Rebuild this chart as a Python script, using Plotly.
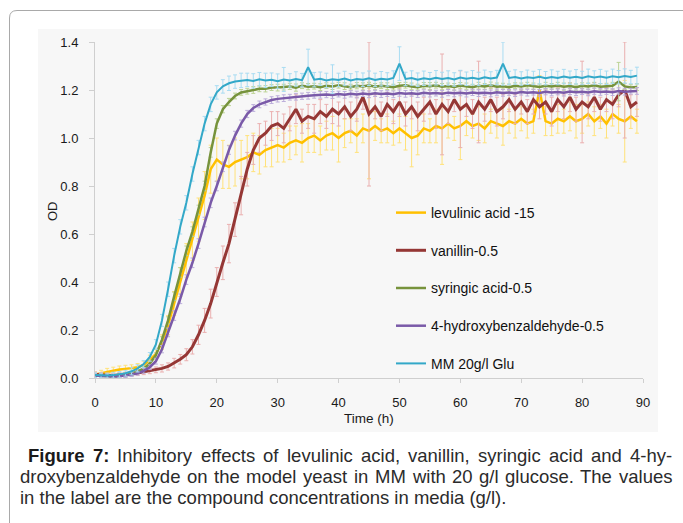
import plotly.graph_objects as go

# ---------------- data ----------------
time_h = list(range(0, 90))

levulinic = [
    0.015, 0.020, 0.028, 0.030, 0.035, 0.038, 0.040, 0.045, 0.055, 0.075,
    0.10, 0.15, 0.22, 0.31, 0.40, 0.49, 0.57, 0.66, 0.76, 0.87,
    0.91, 0.89, 0.88, 0.90, 0.91, 0.92, 0.94, 0.93, 0.95, 0.96,
    0.97, 0.96, 0.98, 0.99, 0.98, 1.00, 1.01, 0.99, 1.01, 1.02,
    1.00, 1.02, 1.03, 1.01, 1.04, 1.03, 1.05, 1.03, 1.04, 1.02,
    1.04, 1.02, 1.00, 1.01, 1.04, 1.03, 1.05, 1.04, 1.06, 1.04,
    1.05, 1.07, 1.05, 1.06, 1.04, 1.07, 1.06, 1.05, 1.07, 1.06,
    1.08, 1.06, 1.07, 1.20, 1.07, 1.06, 1.08, 1.07, 1.09, 1.07,
    1.08, 1.10, 1.07, 1.09, 1.06, 1.10, 1.08, 1.07, 1.09, 1.07]
levulinic_err = [
    0.010, 0.012, 0.012, 0.015, 0.015, 0.015, 0.015, 0.015, 0.015, 0.020,
    0.020, 0.030, 0.040, 0.050, 0.060, 0.070, 0.080, 0.090, 0.100, 0.100,
    0.090, 0.100, 0.090, 0.100, 0.080, 0.090, 0.080, 0.080, 0.070, 0.080,
    0.070, 0.060, 0.070, 0.060, 0.080, 0.060, 0.070, 0.060, 0.060, 0.070,
    0.100, 0.060, 0.050, 0.070, 0.060, 0.200, 0.060, 0.050, 0.060, 0.050,
    0.060, 0.070, 0.120, 0.080, 0.060, 0.050, 0.070, 0.150, 0.060, 0.050,
    0.140, 0.060, 0.050, 0.070, 0.060, 0.050, 0.060, 0.080, 0.050, 0.060,
    0.050, 0.060, 0.050, 0.060, 0.060, 0.050, 0.060, 0.050, 0.060, 0.070,
    0.060, 0.050, 0.060, 0.050, 0.060, 0.050, 0.060, 0.170, 0.050, 0.050]

vanillin = [
    0.015, 0.013, 0.010, 0.010, 0.012, 0.014, 0.017, 0.021, 0.026, 0.030,
    0.034, 0.040, 0.048, 0.062, 0.078, 0.097, 0.13, 0.18, 0.24, 0.31,
    0.40, 0.48, 0.56, 0.66, 0.76, 0.87, 0.95, 1.00, 1.02, 1.05,
    1.06, 1.04, 1.08, 1.12, 1.07, 1.09, 1.08, 1.11, 1.09, 1.12,
    1.10, 1.13, 1.09, 1.12, 1.17, 1.10, 1.13, 1.09, 1.14, 1.11,
    1.15, 1.10, 1.13, 1.09, 1.12, 1.15, 1.10, 1.14, 1.11, 1.16,
    1.12, 1.14, 1.10, 1.15, 1.12, 1.16, 1.11, 1.13, 1.16, 1.12,
    1.15, 1.11, 1.16, 1.13, 1.15, 1.11, 1.16, 1.13, 1.17, 1.12,
    1.15, 1.13, 1.17, 1.12, 1.16, 1.14, 1.18, 1.20, 1.13, 1.15]
vanillin_err = [
    0.010, 0.010, 0.010, 0.010, 0.010, 0.010, 0.010, 0.010, 0.012, 0.012,
    0.012, 0.015, 0.015, 0.020, 0.020, 0.025, 0.030, 0.040, 0.050, 0.060,
    0.060, 0.070, 0.080, 0.070, 0.080, 0.070, 0.060, 0.060, 0.050, 0.060,
    0.050, 0.060, 0.050, 0.060, 0.050, 0.050, 0.060, 0.050, 0.050, 0.060,
    0.050, 0.050, 0.060, 0.050, 0.050, 0.300, 0.050, 0.060, 0.050, 0.050,
    0.060, 0.050, 0.050, 0.060, 0.050, 0.050, 0.060, 0.210, 0.050, 0.050,
    0.160, 0.050, 0.060, 0.170, 0.050, 0.050, 0.060, 0.050, 0.050, 0.060,
    0.050, 0.050, 0.060, 0.050, 0.050, 0.060, 0.050, 0.050, 0.060, 0.050,
    0.170, 0.050, 0.060, 0.050, 0.050, 0.060, 0.050, 0.200, 0.050, 0.060]

syringic = [
    0.010, 0.008, 0.006, 0.006, 0.008, 0.012, 0.018, 0.027, 0.040, 0.060,
    0.095, 0.16, 0.24, 0.34, 0.44, 0.53, 0.61, 0.70, 0.80, 0.94,
    1.06, 1.12, 1.15, 1.175, 1.19, 1.195, 1.20, 1.205, 1.205, 1.21,
    1.21, 1.212, 1.215, 1.21, 1.218, 1.214, 1.216, 1.212, 1.218, 1.215,
    1.22, 1.216, 1.212, 1.218, 1.215, 1.22, 1.214, 1.218, 1.216, 1.212,
    1.218, 1.22, 1.215, 1.212, 1.218, 1.216, 1.22, 1.214, 1.217, 1.213,
    1.219, 1.216, 1.212, 1.218, 1.215, 1.22, 1.214, 1.216, 1.212, 1.218,
    1.215, 1.22, 1.216, 1.213, 1.218, 1.215, 1.219, 1.214, 1.217, 1.212,
    1.218, 1.215, 1.22, 1.214, 1.216, 1.218, 1.235, 1.215, 1.21, 1.212]
syringic_err = [
    0.008, 0.008, 0.008, 0.008, 0.008, 0.008, 0.008, 0.008, 0.008, 0.008,
    0.010, 0.012, 0.015, 0.018, 0.020, 0.020, 0.020, 0.020, 0.020, 0.020,
    0.020, 0.015, 0.015, 0.012, 0.012, 0.012, 0.014, 0.012, 0.013, 0.012,
    0.014, 0.012, 0.013, 0.015, 0.012, 0.013, 0.012, 0.014, 0.012, 0.013,
    0.012, 0.014, 0.012, 0.013, 0.015, 0.012, 0.013, 0.012, 0.014, 0.012,
    0.013, 0.012, 0.014, 0.012, 0.013, 0.015, 0.012, 0.013, 0.012, 0.014,
    0.012, 0.013, 0.012, 0.014, 0.012, 0.013, 0.015, 0.012, 0.013, 0.012,
    0.014, 0.012, 0.013, 0.012, 0.014, 0.012, 0.013, 0.015, 0.012, 0.013,
    0.012, 0.014, 0.012, 0.013, 0.012, 0.014, 0.080, 0.013, 0.012, 0.014]

hydroxybenz = [
    0.010, 0.008, 0.006, 0.006, 0.007, 0.010, 0.014, 0.020, 0.030, 0.045,
    0.07, 0.12, 0.19, 0.26, 0.33, 0.41, 0.48, 0.56, 0.65, 0.73,
    0.80, 0.88, 0.95, 1.01, 1.06, 1.10, 1.125, 1.14, 1.15, 1.158,
    1.163, 1.166, 1.17, 1.172, 1.174, 1.176, 1.178, 1.18, 1.181, 1.179,
    1.183, 1.18, 1.184, 1.181, 1.185, 1.182, 1.186, 1.183, 1.185, 1.182,
    1.187, 1.184, 1.186, 1.183, 1.188, 1.185, 1.187, 1.184, 1.189, 1.186,
    1.188, 1.185, 1.19, 1.187, 1.189, 1.186, 1.191, 1.188, 1.19, 1.187,
    1.192, 1.189, 1.191, 1.188, 1.193, 1.19, 1.192, 1.189, 1.194, 1.191,
    1.193, 1.19, 1.195, 1.192, 1.194, 1.191, 1.196, 1.193, 1.195, 1.196]
hydroxybenz_err = [
    0.008, 0.008, 0.008, 0.008, 0.008, 0.008, 0.008, 0.008, 0.010, 0.010,
    0.012, 0.015, 0.018, 0.020, 0.020, 0.020, 0.020, 0.020, 0.020, 0.020,
    0.020, 0.020, 0.018, 0.018, 0.015, 0.015, 0.014, 0.014, 0.013, 0.014,
    0.013, 0.014, 0.012, 0.014, 0.013, 0.014, 0.012, 0.014, 0.013, 0.014,
    0.012, 0.014, 0.013, 0.014, 0.012, 0.014, 0.013, 0.014, 0.012, 0.014,
    0.013, 0.014, 0.012, 0.014, 0.013, 0.014, 0.012, 0.014, 0.013, 0.014,
    0.012, 0.014, 0.013, 0.014, 0.012, 0.014, 0.013, 0.014, 0.012, 0.014,
    0.013, 0.014, 0.012, 0.014, 0.013, 0.014, 0.012, 0.014, 0.013, 0.014,
    0.012, 0.014, 0.013, 0.014, 0.012, 0.014, 0.013, 0.014, 0.012, 0.014]

mm_glu = [
    0.012, 0.010, 0.010, 0.012, 0.015, 0.020, 0.028, 0.040, 0.058, 0.088,
    0.14, 0.24, 0.37, 0.51, 0.63, 0.73, 0.85, 0.96, 1.06, 1.14,
    1.19, 1.215, 1.228, 1.235, 1.24, 1.242, 1.238, 1.245, 1.24, 1.243,
    1.237, 1.244, 1.24, 1.246, 1.241, 1.295, 1.243, 1.247, 1.24, 1.245,
    1.242, 1.248, 1.24, 1.246, 1.243, 1.249, 1.242, 1.247, 1.244, 1.25,
    1.31, 1.246, 1.25, 1.243, 1.249, 1.245, 1.251, 1.246, 1.25, 1.244,
    1.252, 1.247, 1.251, 1.246, 1.253, 1.248, 1.252, 1.31, 1.25, 1.254,
    1.248, 1.253, 1.25, 1.255, 1.249, 1.254, 1.25, 1.256, 1.251, 1.255,
    1.25, 1.257, 1.252, 1.256, 1.251, 1.257, 1.253, 1.258, 1.254, 1.26]
mm_glu_err = [
    0.010, 0.010, 0.010, 0.012, 0.012, 0.012, 0.015, 0.015, 0.015, 0.018,
    0.020, 0.025, 0.030, 0.030, 0.030, 0.030, 0.030, 0.030, 0.030, 0.030,
    0.028, 0.028, 0.030, 0.028, 0.030, 0.028, 0.030, 0.028, 0.030, 0.028,
    0.030, 0.050, 0.028, 0.030, 0.028, 0.075, 0.030, 0.028, 0.030, 0.060,
    0.028, 0.030, 0.028, 0.030, 0.028, 0.030, 0.028, 0.030, 0.028, 0.030,
    0.070, 0.028, 0.030, 0.028, 0.030, 0.028, 0.030, 0.028, 0.030, 0.028,
    0.030, 0.028, 0.030, 0.028, 0.030, 0.028, 0.030, 0.090, 0.028, 0.030,
    0.028, 0.030, 0.028, 0.030, 0.028, 0.030, 0.028, 0.030, 0.028, 0.030,
    0.028, 0.030, 0.028, 0.030, 0.028, 0.030, 0.028, 0.030, 0.028, 0.035]

series_names = ["levulinic acid -15", "vanillin-0.5", "syringic acid-0.5",
                "4-hydroxybenzaldehyde-0.5", "MM 20g/l Glu"]
x_ticks = [0, 10, 20, 30, 40, 50, 60, 70, 80, 90]
y_ticks = [0.0, 0.2, 0.4, 0.6, 0.8, 1.0, 1.2, 1.4]
x_title = "Time (h)"
y_title = "OD"
caption_line1 = ["Figure", "7:", "Inhibitory", "effects", "of", "levulinic", "acid,",
                 "vanillin,", "syringic", "acid", "and", "4-hy-"]
caption_line2 = ["droxybenzaldehyde", "on", "the", "model", "yeast", "in", "MM", "with",
                 "20", "g/l", "glucose.", "The", "values"]
caption_line3 = "in the label are the compound concentrations in media (g/l)."

# ---------------- styling ----------------
FONT = "Liberation Sans, Arial, Helvetica, sans-serif"
W, H = 683, 523
L, R, T, B = 95, 643, 42, 378   # plot area in pixels


def X(px):
    return (px - L) / (R - L)


def Y(py):
    return (B - py) / (B - T)


line_colors = ["#ffc000", "#953735", "#77933c", "#7a5aa8", "#33a8c8"]
err_colors = ["#ffe27a", "#eab0b0", "#bcd395", "#bcaedb", "#a9dcf2"]
line_widths = [2.5, 3, 2.5, 2.5, 2]
values = [levulinic, vanillin, syringic, hydroxybenz, mm_glu]
errors = [levulinic_err, vanillin_err, syringic_err, hydroxybenz_err, mm_glu_err]

fig = go.Figure()
for i, name in enumerate(series_names):
    fig.add_trace(go.Scatter(
        x=time_h, y=values[i], name=name, mode="lines",
        legendgroup=f"g{i}",
        line=dict(color=line_colors[i], width=line_widths[i]),
        error_y=dict(type="data", array=errors[i], visible=True,
                     color=err_colors[i], thickness=1, width=2),
    ))

# ---------------- decorations ----------------
shapes = [
    # light grey panel behind chart
    dict(type="rect", xref="paper", yref="paper", layer="below",
         x0=X(38), x1=X(658), y0=Y(432), y1=Y(29),
         fillcolor="#f7f7f7", line=dict(width=0)),
    # rounded outer frame (top + left)
    dict(type="path", xref="paper", yref="paper", layer="below",
         path=(f"M {X(9.5)},{Y(530)} L {X(9.5)},{Y(18)} "
               f"Q {X(9.5)},{Y(10.5)} {X(17)},{Y(10.5)} L {X(700)},{Y(10.5)}"),
         line=dict(color="#a9a9a9", width=1)),
]

# Arial / Liberation Sans advance widths (1/1000 em)
REG = {' ': 278, '(': 333, ')': 333, ',': 278, '-': 333, '.': 278, '/': 278, ':': 278,
       'F': 611, 'I': 278, 'M': 833, 'T': 611,
       'a': 556, 'b': 556, 'c': 500, 'd': 556, 'e': 556, 'f': 278, 'g': 556, 'h': 556,
       'i': 222, 'j': 222, 'k': 500, 'l': 222, 'm': 833, 'n': 556, 'o': 556, 'p': 556,
       'q': 556, 'r': 333, 's': 500, 't': 278, 'u': 556, 'v': 500, 'w': 722, 'x': 500,
       'y': 500, 'z': 500}
for dch in "0123456789":
    REG[dch] = 556
BOLD = {'F': 611, 'i': 278, 'g': 611, 'u': 611, 'r': 389, 'e': 556, '7': 556, ':': 333, ' ': 278}

CAP_SIZE = 18.5
CAP_COLOR = "#2b2b2b"


def text_w(word, bold):
    tab = BOLD if bold else REG
    return sum(tab.get(c, 556) for c in word) * CAP_SIZE / 1000.0


annotations = []


def justify(words, x0, x1, yc, bold_n=0):
    widths = [text_w(w, k < bold_n) for k, w in enumerate(words)]
    gap = (x1 - x0 - sum(widths)) / (len(words) - 1)
    x = x0
    for k, w in enumerate(words):
        txt = f"<b>{w}</b>" if k < bold_n else w
        annotations.append(dict(
            text=txt, x=X(x), y=Y(yc), xref="paper", yref="paper",
            xanchor="left", yanchor="middle", showarrow=False, borderpad=0,
            font=dict(family=FONT, size=CAP_SIZE,
                      color="#1a1a1a" if k < bold_n else CAP_COLOR)))
        x += widths[k] + gap


justify(caption_line1, 27, 671, 455, bold_n=2)
justify(caption_line2, 19, 671, 476)
annotations.append(dict(
    text=caption_line3, x=X(19), y=Y(497.5), xref="paper", yref="paper",
    xanchor="left", yanchor="middle", showarrow=False, borderpad=0,
    font=dict(family=FONT, size=CAP_SIZE, color=CAP_COLOR)))

# axis titles
annotations.append(dict(text=x_title, x=X(369), y=Y(418), xref="paper", yref="paper",
                        xanchor="center", yanchor="middle", showarrow=False,
                        font=dict(family=FONT, size=13.5, color="#1a1a1a")))
annotations.append(dict(text=y_title, x=X(52), y=Y(211), xref="paper", yref="paper",
                        xanchor="center", yanchor="middle", showarrow=False,
                        textangle=-90,
                        font=dict(family=FONT, size=13, color="#1a1a1a")))

axis_col = "#cfcfcf"
fig.update_layout(
    width=W, height=H, autosize=False,
    margin=dict(l=L, r=W - R, t=T, b=H - B, pad=0),
    paper_bgcolor="white", plot_bgcolor="rgba(0,0,0,0)",
    font=dict(family=FONT, color="#1a1a1a"),
    shapes=shapes, annotations=annotations,
    showlegend=True,
    legend=dict(x=X(391), y=Y(197), xanchor="left", yanchor="top",
                bgcolor="rgba(0,0,0,0)", borderwidth=0,
                font=dict(family=FONT, size=14, color="#111111"),
                tracegroupgap=16.5, itemwidth=30),
    xaxis=dict(range=[0, 90], tickvals=x_ticks, showgrid=False, zeroline=False,
               showline=True, linecolor=axis_col, linewidth=1,
               ticks="outside", ticklen=4, tickcolor=axis_col,
               ticklabelstandoff=8,
               tickfont=dict(family=FONT, size=13, color="#1a1a1a")),
    yaxis=dict(range=[0, 1.4], tickvals=y_ticks, tickformat=".1f", showgrid=False,
               zeroline=False, showline=True, linecolor=axis_col, linewidth=1,
               ticks="outside", ticklen=5, tickcolor=axis_col,
               ticklabelstandoff=8,
               tickfont=dict(family=FONT, size=13, color="#1a1a1a")),
)

fig.write_html("out.html")
